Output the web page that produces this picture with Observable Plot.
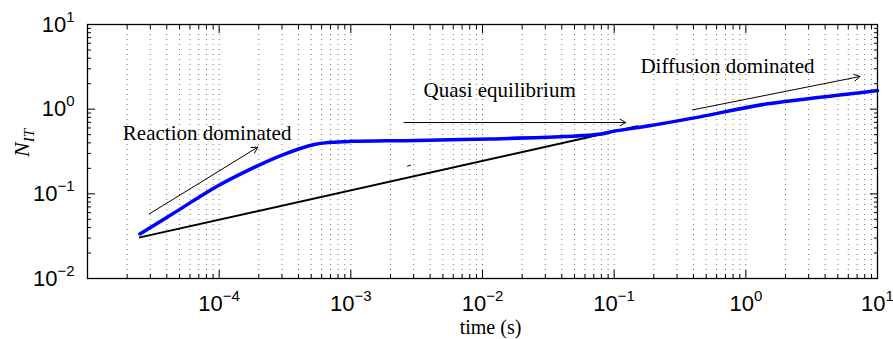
<!DOCTYPE html>
<html><head><meta charset="utf-8">
<script src="https://cdn.jsdelivr.net/npm/d3@7"></script>
<script src="https://cdn.jsdelivr.net/npm/@observablehq/plot@0.6"></script>
<style>body{margin:0;background:#fff} svg{display:block}</style>
</head><body><div id="chart"></div>
<script>
// Blue curve: N_IT vs time
const blueT = [2.5e-5, 4.78e-5, 9.16e-5, 1.64e-4, 2.94e-4, 5.27e-4, 7.05e-4, 1e-3, 3.16e-3, 1.16e-2, 4.14e-2, 7.94e-2, 0.1, 0.19, 0.405, 1.46, 6.25, 10];
const blueN = [0.0336, 0.0625, 0.1175, 0.188, 0.283, 0.382, 0.406, 0.417, 0.427, 0.445, 0.474, 0.51, 0.55, 0.64, 0.789, 1.156, 1.517, 1.66];
// Black asymptote line
const blackT = [2.5e-5, 0.15];
const blackN = [0.0306, 0.627];
// Stray dash
const strayT = [2.68e-3, 2.86e-3];
const strayN = [0.211, 0.219];
// Annotation arrows
const arrowT1 = [2.94e-5, 2.54e-3, 0.394];
const arrowN1 = [0.0578, 0.695, 0.98];
const arrowT2 = [1.96e-4, 0.1225, 7.36];
const arrowN2 = [0.355, 0.695, 2.43];
// Annotation text
const noteText = ["Reaction dominated", "Quasi equilibrium", "Diffusion dominated"];
const noteT = [8.1e-5, 0.0135, 0.725];
const noteN = [0.515, 1.66, 3.23];
// Axes
const xDomain = [1e-5, 10];
const yDomain = [1e-2, 10];
const xLabelTicks = [1e-4, 1e-3, 1e-2, 1e-1, 1, 10];
const xExponents = ["−4", "−3", "−2", "−1", "0", "1"];
const yLabelTicks = [1e-2, 1e-1, 1, 10];
const yExponents = ["−2", "−1", "0", "1"];
const xLabel = "time (s)";

const blue = blueT.map((t, i) => ({t, n: blueN[i]}));
const black = blackT.map((t, i) => ({t, n: blackN[i]}));
const stray = [{t1: strayT[0], n1: strayN[0], t2: strayT[1], n2: strayN[1]}];
const arrows = arrowT1.map((t, i) => ({t1: t, n1: arrowN1[i], t2: arrowT2[i], n2: arrowN2[i]}));
const notes = noteText.map((s, i) => ({s, t: noteT[i], n: noteN[i]}));

const xAll = d3.scaleLog().domain(xDomain).ticks();
const yAll = d3.scaleLog().domain(yDomain).ticks();
const isMajor = v => Math.abs(Math.log10(v) - Math.round(Math.log10(v))) < 1e-9;
const xMajor = xAll.filter(isMajor);
const yMajor = yAll.filter(isMajor);
const xMinor = xAll.filter(v => !isMajor(v));
const yMinor = yAll.filter(v => !isMajor(v));

const xExp = new Map(xLabelTicks.map((v, i) => [v, xExponents[i]]));
const yExp = new Map(yLabelTicks.map((v, i) => [v, yExponents[i]]));

const gridStyle = {stroke: "#000", strokeOpacity: 0.55, strokeDasharray: "1,4"};
const noText = () => "";
const tickAxes = [];
for (const [ticks, size] of [[xMinor, -4], [xMajor, -8]])
  for (const anchor of ["bottom", "top"])
    tickAxes.push(Plot.axisX(ticks, {anchor, tickSize: size, tickFormat: noText, label: null}));
for (const [ticks, size] of [[yMinor, -4], [yMajor, -8]])
  for (const anchor of ["left", "right"])
    tickAxes.push(Plot.axisY(ticks, {anchor, tickSize: size, tickFormat: noText, label: null}));

const serif = "'Liberation Serif', 'Times New Roman', serif";

const chart = Plot.plot({
  width: 893,
  height: 339,
  marginLeft: 87,
  marginRight: 16,
  marginTop: 24,
  marginBottom: 61,
  style: {fontFamily: "'Liberation Sans', Arial, sans-serif", fontSize: "22px", background: "#fff", color: "#000"},
  x: {type: "log", domain: xDomain},
  y: {type: "log", domain: yDomain},
  marks: [
    Plot.gridX(xAll, gridStyle),
    ...tickAxes,
    Plot.axisX(xLabelTicks, {anchor: "bottom", tickSize: 0, tickPadding: 17, tickFormat: v => "10^" + xExp.get(v), label: null, fontSize: 22}),
    Plot.axisY(yLabelTicks, {anchor: "left", tickSize: 0, tickPadding: 13, tickFormat: v => "10^" + yExp.get(v), label: null, fontSize: 22}),
    Plot.line(black, {x: "t", y: "n", stroke: "#000", strokeWidth: 2}),
    Plot.link(stray, {x1: "t1", y1: "n1", x2: "t2", y2: "n2", stroke: "#000", strokeWidth: 1}),
    Plot.line(blue, {x: "t", y: "n", stroke: "#0000ff", strokeWidth: 3.5, curve: "catmull-rom"}),
    Plot.arrow(arrows, {x1: "t1", y1: "n1", x2: "t2", y2: "n2", stroke: "#000", strokeWidth: 1, headLength: 10, bend: 0}),
    Plot.text(notes, {x: "t", y: "n", text: "s", fontFamily: serif, fontSize: 21, fill: "#000", textAnchor: "middle", lineAnchor: "middle"}),
    Plot.text([xLabel], {frameAnchor: "bottom", dy: 49, dx: 8, fontFamily: serif, fontSize: 20, fill: "#000", lineAnchor: "middle"}),
    Plot.frame({stroke: "#000", strokeWidth: 1.3})
  ]
});

document.getElementById("chart").appendChild(chart);

// Superscript exponents in tick labels
const svg = d3.select(chart);
svg.selectAll("text").each(function() {
  const el = d3.select(this);
  const s = el.text();
  if (!s.startsWith("10^")) return;
  const [base, exp] = s.split("^");
  el.text(base);
  el.append("tspan").attr("font-size", 15).attr("dy", -10).text(exp);
});

// Y label N_IT
const yl = svg.append("text")
  .attr("transform", "translate(29,143) rotate(-90)")
  .attr("text-anchor", "middle")
  .attr("font-family", serif)
  .attr("font-style", "italic")
  .attr("font-size", 22)
  .attr("fill", "#000");
yl.append("tspan").text("N");
yl.append("tspan").attr("font-size", 15).attr("dy", 5).text("IT");
</script>
</body></html>
